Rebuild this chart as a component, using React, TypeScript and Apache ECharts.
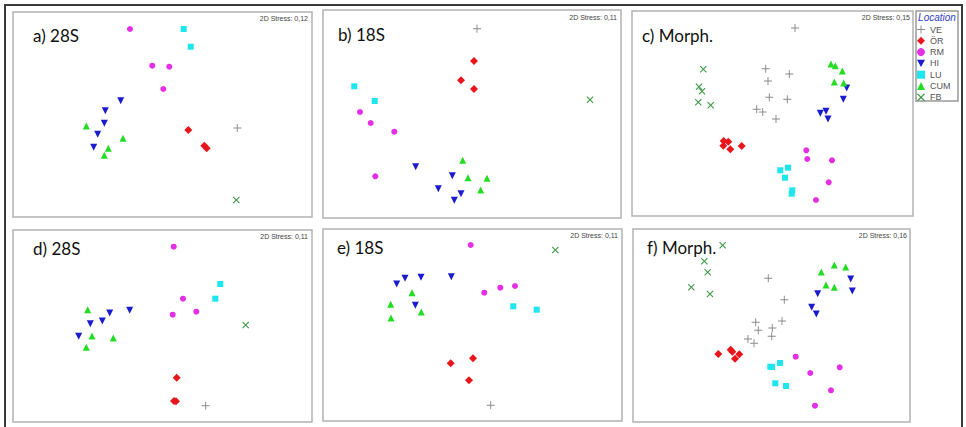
import React, { useEffect, useRef } from "react";
import * as echarts from "echarts";

// Groups (Location) in legend order
const GROUPS = ["VE", "ÖR", "RM", "HI", "LU", "CUM", "FB"];

// Panel titles and stress values
const PANEL_LABELS = ["a) 28S", "b) 18S", "c) Morph.", "d) 28S", "e) 18S", "f) Morph."];
const STRESS_LABELS = ["2D Stress: 0,12", "2D Stress: 0,11", "2D Stress: 0,15", "2D Stress: 0,11", "2D Stress: 0,11", "2D Stress: 0,16"];

// NMDS ordination coordinates per panel (arbitrary units): [group, x, y]
const panelA: [string, number, number][] = [
  ["RM", 117, 188], ["RM", 139.3, 151.3], ["RM", 156.3, 150.3], ["RM", 150.3, 128],
  ["LU", 170.7, 188], ["LU", 177.7, 170.3],
  ["HI", 107.7, 116.3], ["HI", 92.3, 106.3], ["HI", 91.3, 93.7], ["HI", 84.7, 82.7], ["HI", 80.7, 69.7],
  ["CUM", 73.3, 91], ["CUM", 110, 78.7], ["CUM", 95.3, 68.7], ["CUM", 91.3, 61.7],
  ["ÖR", 175.3, 87], ["ÖR", 191.3, 71.3], ["ÖR", 193.7, 68.7],
  ["VE", 224.3, 89],
  ["FB", 223.3, 17],
];
const panelB: [string, number, number][] = [
  ["VE", 154, 189.3],
  ["ÖR", 151, 157], ["ÖR", 138, 137.7], ["ÖR", 151, 129],
  ["LU", 31.3, 131.7], ["LU", 51.7, 117],
  ["RM", 37, 106], ["RM", 47.7, 95], ["RM", 71.3, 86.3], ["RM", 52.3, 41.7],
  ["FB", 267, 118.3],
  ["HI", 92.7, 51.3], ["HI", 129.3, 42.3], ["HI", 115.3, 29.3], ["HI", 138, 24.3], ["HI", 131.3, 17.7],
  ["CUM", 139.7, 57.7], ["CUM", 145, 40.3], ["CUM", 164, 39.7], ["CUM", 157.7, 28],
];
const panelC: [string, number, number][] = [
  ["VE", 163, 188], ["VE", 133.7, 147.3], ["VE", 157.3, 142], ["VE", 136, 135], ["VE", 137.3, 118.7],
  ["VE", 155.3, 116.7], ["VE", 124.7, 106.7], ["VE", 130.7, 104], ["VE", 144, 97],
  ["FB", 71.3, 146.7], ["FB", 67, 129.3], ["FB", 70, 124.7], ["FB", 66.3, 113.7], ["FB", 78.7, 110.7],
  ["ÖR", 91.7, 75], ["ÖR", 96.3, 74.3], ["ÖR", 91.3, 70.3], ["ÖR", 98.3, 66.7], ["ÖR", 109.7, 70],
  ["CUM", 199, 152], ["CUM", 203.3, 150.3], ["CUM", 210.3, 145], ["CUM", 202.3, 134], ["CUM", 211.7, 133],
  ["HI", 214.7, 128], ["HI", 211.3, 116.7], ["HI", 188.3, 102.7], ["HI", 194, 104.7], ["HI", 196, 97],
  ["RM", 174.3, 65.7], ["RM", 175.3, 57], ["RM", 200, 55.7], ["RM", 196.7, 33.7], ["RM", 184, 16],
  ["LU", 148.3, 45.7], ["LU", 156, 48.3], ["LU", 153, 38.3], ["LU", 160.3, 25.7], ["LU", 159.7, 22.3],
];
const panelD: [string, number, number][] = [
  ["RM", 160.7, 175.3], ["RM", 170, 123.3], ["RM", 159.7, 107.3], ["RM", 183.3, 110.3],
  ["LU", 207.3, 138], ["LU", 202.3, 123.3],
  ["FB", 232.7, 97],
  ["HI", 116.7, 111.7], ["HI", 96.7, 109], ["HI", 89.3, 101], ["HI", 77.3, 98.3], ["HI", 65.7, 85.7],
  ["CUM", 74.7, 112.3], ["CUM", 79, 86], ["CUM", 100.3, 84], ["CUM", 73.3, 74.7],
  ["ÖR", 163.7, 44.3], ["ÖR", 161, 21], ["ÖR", 163, 20.7],
  ["VE", 192.7, 16.3],
];
const panelE: [string, number, number][] = [
  ["RM", 147.7, 176], ["RM", 161.3, 128.3], ["RM", 177.3, 133.3], ["RM", 192, 135],
  ["FB", 232.3, 171],
  ["HI", 73.7, 137], ["HI", 82, 142.7], ["HI", 98, 143.7], ["HI", 128.3, 144.3], ["HI", 92.3, 115.7],
  ["CUM", 89, 128.3], ["CUM", 67.7, 116.7], ["CUM", 98.3, 109], ["CUM", 68, 103],
  ["LU", 190.3, 114.7], ["LU", 213.7, 111.3],
  ["ÖR", 150, 62.7], ["ÖR", 127.7, 57.7], ["ÖR", 146, 40.7],
  ["VE", 167.7, 15.7],
];
const panelF: [string, number, number][] = [
  ["FB", 89.7, 176.7], ["FB", 71.3, 160.7], ["FB", 74.7, 149.7], ["FB", 58.3, 134.7], ["FB", 77, 128],
  ["VE", 135.3, 143.7], ["VE", 151.3, 122.3], ["VE", 122.7, 99.7], ["VE", 149, 101], ["VE", 125.3, 91.7],
  ["VE", 139.3, 94], ["VE", 138.7, 85.7], ["VE", 115, 83], ["VE", 121, 78.7],
  ["CUM", 188.3, 150], ["CUM", 201.3, 157], ["CUM", 212.7, 155], ["CUM", 193, 137], ["CUM", 201.3, 134.7],
  ["HI", 217.7, 143], ["HI", 219.3, 131], ["HI", 184.7, 128.3], ["HI", 178.7, 114.7], ["HI", 183.3, 108],
  ["ÖR", 85.3, 68], ["ÖR", 97.7, 72.3], ["ÖR", 99.3, 70.3], ["ÖR", 106.3, 67.7], ["ÖR", 102, 63.3],
  ["LU", 137.3, 55.3], ["LU", 139, 55], ["LU", 147, 59], ["LU", 142.3, 38.7], ["LU", 153, 36],
  ["RM", 162.7, 65.3], ["RM", 177.3, 49], ["RM", 206.7, 54.7], ["RM", 198, 31.7], ["RM", 182, 16.3],
];
const PANELS = [panelA, panelB, panelC, panelD, panelE, panelF];

// Layout (pixels) of each panel box: left, top, width, height
const GRIDS = [
  [13, 12, 299, 205],
  [323, 10, 298, 208],
  [632, 11, 281, 205],
  [13, 230, 299, 192],
  [323, 229, 299, 192],
  [633, 229, 277, 193],
];
const LABEL_POS = [[33, 35], [338, 34], [642, 35], [33, 248.5], [337, 247.5], [647, 247.5]];
const STRESS_POS = [[308, 18], [617, 17], [910, 17], [308, 236.5], [618, 235], [907, 235]];

const PLUS = "path://M4.4,0H5.6V4.4H10V5.6H5.6V10H4.4V5.6H0V4.4H4.4Z";
const CROSS = "path://M0,1.1L1.1,0L5,3.9L8.9,0L10,1.1L6.1,5L10,8.9L8.9,10L5,6.1L1.1,10L0,8.9L3.9,5Z";
const DOWN_TRI = "path://M0,0L10,0L5,9Z";

const STYLE: Record<string, { symbol: string; size: number; color: string }> = {
  VE: { symbol: PLUS, size: 8, color: "#8a8a8a" },
  "ÖR": { symbol: "diamond", size: 8, color: "#e8161c" },
  RM: { symbol: "circle", size: 6, color: "#e52ee5" },
  HI: { symbol: DOWN_TRI, size: 7, color: "#1a1ad0" },
  LU: { symbol: "rect", size: 6, color: "#1ce6ee" },
  CUM: { symbol: "triangle", size: 7, color: "#22dd22" },
  FB: { symbol: CROSS, size: 7, color: "#3c9a46" },
};

export default function App() {
  const ref = useRef<HTMLDivElement>(null);
  useEffect(() => {
    if (!ref.current) return;
    const chart = echarts.init(ref.current, null, { renderer: "svg" });
    const grid = GRIDS.map(([l, t, w, h]) => ({
      left: l, top: t, width: w, height: h,
      show: true, backgroundColor: "#fff", borderColor: "#b2b2b2", borderWidth: 1.5,
    }));
    const xAxis = GRIDS.map(([, , w], i) => ({ type: "value", gridIndex: i, min: 0, max: w, show: false }));
    const yAxis = GRIDS.map(([, , , h], i) => ({ type: "value", gridIndex: i, min: 0, max: h, show: false }));
    const series: any[] = [];
    PANELS.forEach((rows, i) => {
      GROUPS.forEach((g) => {
        const pts = rows.filter((r) => r[0] === g).map((r) => [r[1], r[2]]);
        series.push({
          type: "scatter", name: g, xAxisIndex: i, yAxisIndex: i, data: pts,
          symbol: STYLE[g].symbol, symbolSize: STYLE[g].size,
          itemStyle: { color: STYLE[g].color, opacity: 1 },
          emphasis: { disabled: true },
        });
      });
    });
    const graphic: any[] = [
      { type: "rect", z: 100, shape: { x: 5, y: 5, width: 957, height: 440 }, style: { fill: "none", stroke: "#3a3a3a", lineWidth: 2 } },
      { type: "rect", z: 1, shape: { x: 916, y: 11, width: 42, height: 90 }, style: { fill: "#fff", stroke: "#9a9a9a", lineWidth: 1.5 } },
      { type: "text", z: 10, x: 937, y: 17.5, style: { text: "Location", font: "italic 10px 'Liberation Sans'", fill: "#2f3fcc", align: "center", verticalAlign: "middle", textAlign: "center", textVerticalAlign: "middle" } },
    ];
    PANEL_LABELS.forEach((t, i) => {
      graphic.push({ type: "text", z: 10, x: LABEL_POS[i][0], y: LABEL_POS[i][1], style: { text: t, font: "17px Lato", fill: "#111", align: "left", verticalAlign: "middle", textAlign: "left", textVerticalAlign: "middle" } });
    });
    STRESS_LABELS.forEach((t, i) => {
      graphic.push({ type: "text", z: 10, x: STRESS_POS[i][0], y: STRESS_POS[i][1], style: { text: t, font: "7px 'Liberation Sans'", fill: "#444", align: "right", verticalAlign: "middle", textAlign: "right", textVerticalAlign: "middle" } });
    });
    chart.setOption({
      animation: false,
      backgroundColor: "#fff",
      grid, xAxis, yAxis, series, graphic,
      legend: {
        data: GROUPS, orient: "vertical", left: 917, top: 25, padding: 0,
        itemWidth: 8, itemHeight: 8, itemGap: 2.3, selectedMode: false,
        textStyle: { fontSize: 9, color: "#555", fontFamily: "Liberation Sans", lineHeight: 8 },
      },
    });
    return () => chart.dispose();
  }, []);
  return <div ref={ref} style={{ position: "fixed", left: 0, top: 0, width: 966, height: 427 }} />;
}
